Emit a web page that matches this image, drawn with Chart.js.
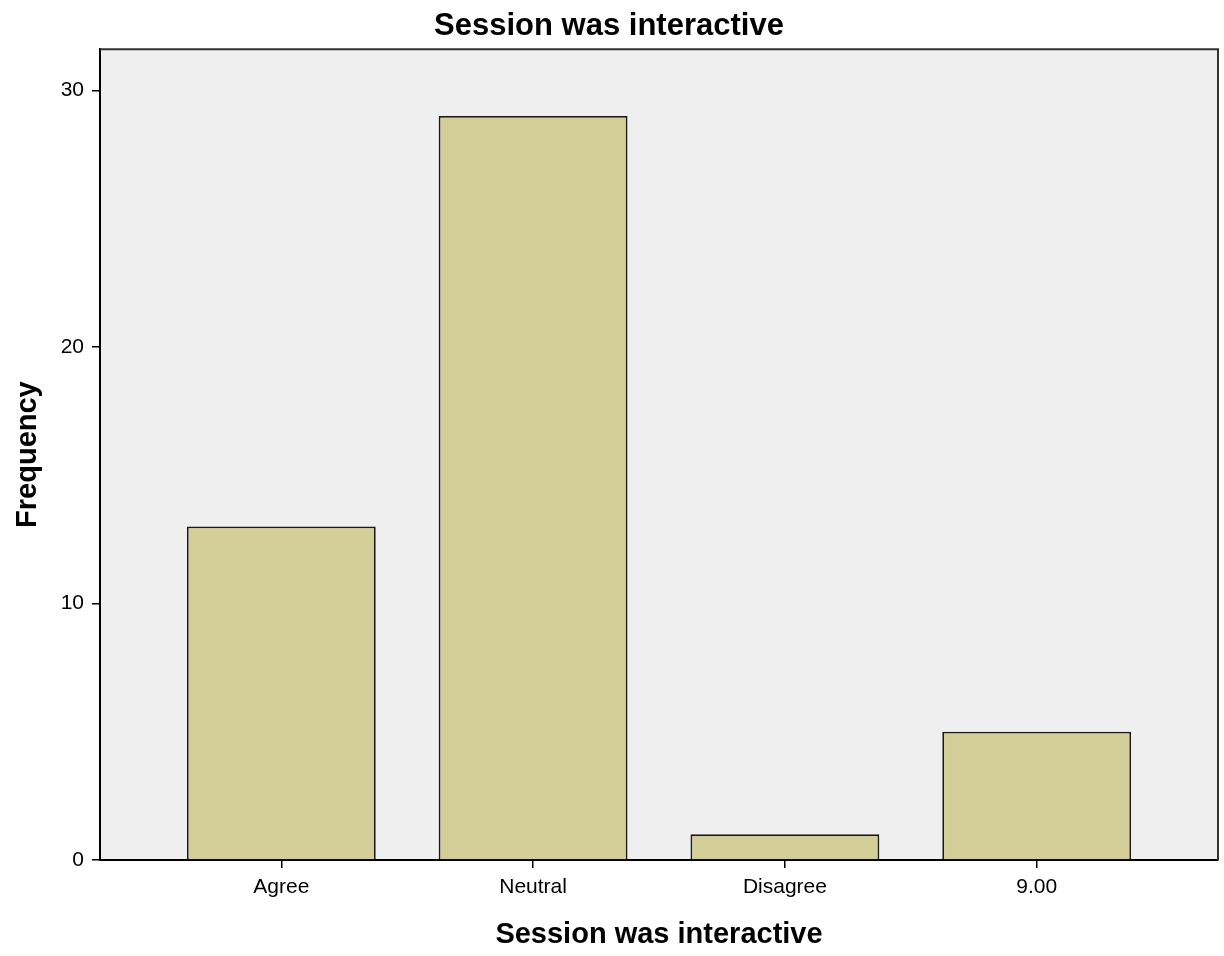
<!DOCTYPE html>
<html>
<head>
<meta charset="utf-8">
<title>Session was interactive</title>
<script src="https://cdn.jsdelivr.net/npm/chart.js@4/dist/chart.umd.min.js"></script>
<style>
  body { margin: 0; background: #fff; }
  #wrap { width: 1224px; height: 956px; }
</style>
</head>
<body>
<div id="wrap"><canvas id="chart" width="1224" height="956"></canvas></div>
<script>
// Dữ liệu biểu đồ
const categories = ['Agree', 'Neutral', 'Disagree', '9.00'];
const frequencies = [13, 29, 1, 5];
const yTicks = [0, 10, 20, 30];

// Nền xám + khung viền cho vùng vẽ
const plotFrame = {
  id: 'plotFrame',
  beforeDraw(chart) {
    const { ctx, chartArea: a } = chart;
    ctx.save();
    ctx.fillStyle = '#efefef';
    ctx.fillRect(a.left, a.top, a.right - a.left, a.bottom - a.top);
    ctx.restore();
  },
  afterDatasetsDraw(chart) {
    const { ctx, chartArea: a } = chart;
    ctx.save();
    ctx.strokeStyle = '#333';
    ctx.lineWidth = 2;
    ctx.beginPath();
    ctx.moveTo(a.left, a.top);
    ctx.lineTo(a.right, a.top);
    ctx.lineTo(a.right, a.bottom);
    ctx.stroke();
    ctx.restore();
  }
};

new Chart(document.getElementById('chart'), {
  type: 'bar',
  data: {
    datasets: [{
      label: 'Frequency',
      data: categories.map((c, i) => ({ x: i, y: frequencies[i] })),
      backgroundColor: '#d3ce97',
      borderColor: '#1a1a1a',
      borderWidth: 1.8,
      categoryPercentage: 1,
      barPercentage: 0.75
    }]
  },
  options: {
    responsive: false,
    animation: false,
    layout: { padding: { left: 0, right: 6, top: 0, bottom: 0 } },
    plugins: {
      legend: { display: false },
      tooltip: { enabled: false },
      title: {
        display: true,
        text: 'Session was interactive',
        color: '#000',
        font: { family: 'Liberation Sans', size: 31, weight: 'bold' },
        padding: { top: 8, bottom: 4 }
      }
    },
    scales: {
      x: {
        type: 'linear',
        min: -0.72,
        max: 3.72,
        offset: false,
        afterBuildTicks: (s) => { s.ticks = categories.map((c, i) => ({ value: i })); },
        afterFit: (s) => { s.height = 96; },
        ticks: {
          color: '#000',
          font: { family: 'Liberation Sans', size: 21 },
          padding: 7,
          autoSkip: false,
          maxRotation: 0,
          callback: (v) => categories[v]
        },
        grid: { drawOnChartArea: false, offset: false, tickLength: 8, color: '#000', lineWidth: 1.5 },
        border: { display: true, color: '#000', width: 2 },
        title: {
          display: true,
          text: 'Session was interactive',
          color: '#000',
          font: { family: 'Liberation Sans', size: 29, weight: 'bold' },
          padding: { top: 0, bottom: 4 }
        }
      },
      y: {
        min: 0,
        max: 31.6,
        afterBuildTicks: (s) => { s.ticks = yTicks.map(v => ({ value: v })); },
        afterFit: (s) => { s.width = 100; },
        ticks: {
          color: '#000',
          font: { family: 'Liberation Sans', size: 21 },
          padding: 8
        },
        grid: { drawOnChartArea: false, tickLength: 8, color: '#000', lineWidth: 1.5 },
        border: { display: true, color: '#000', width: 2 },
        title: {
          display: true,
          text: 'Frequency',
          color: '#000',
          font: { family: 'Liberation Sans', size: 29, weight: 'bold' },
          padding: { top: 11, bottom: 0 }
        }
      }
    }
  },
  plugins: [plotFrame]
});
</script>
</body>
</html>
